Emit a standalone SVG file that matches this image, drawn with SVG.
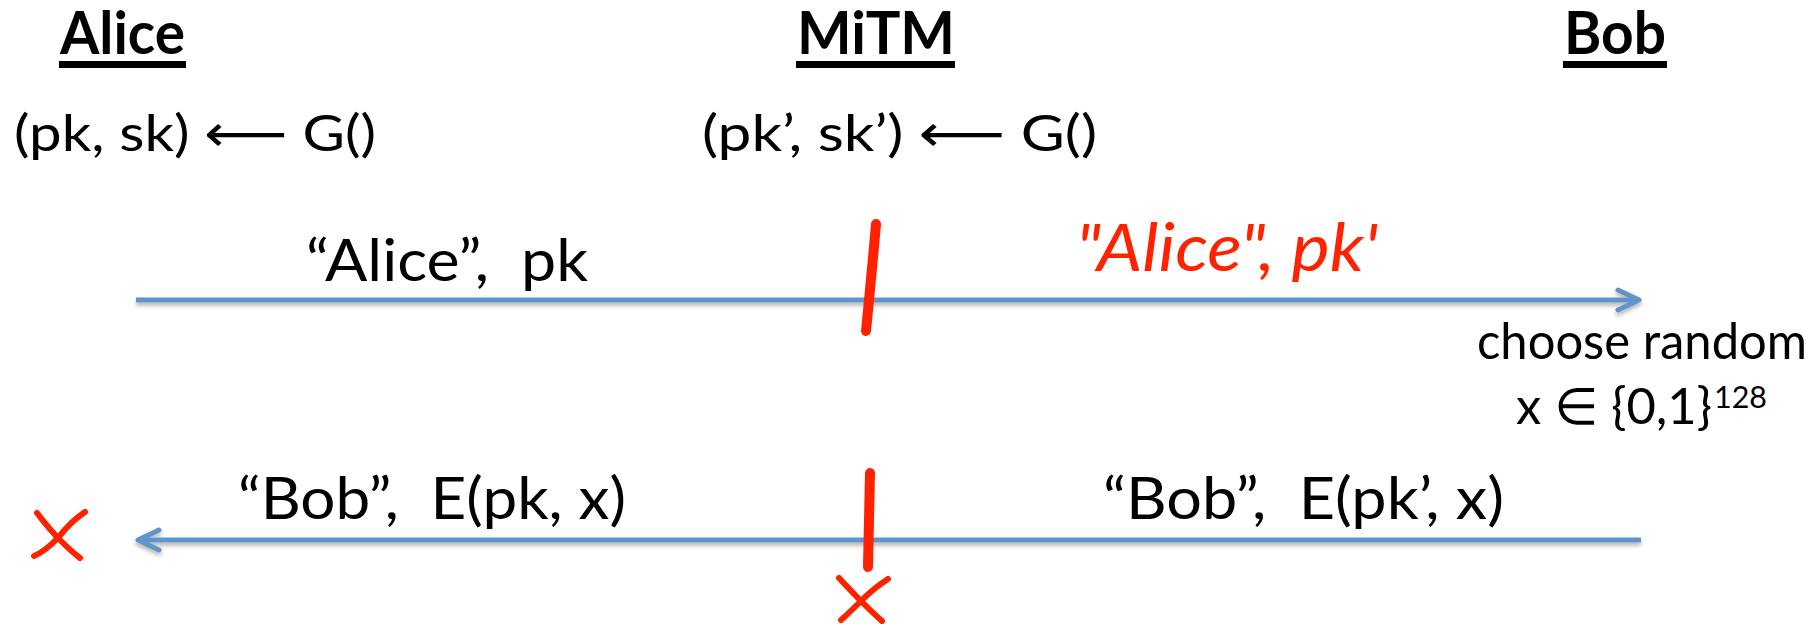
<svg xmlns="http://www.w3.org/2000/svg" width="1814" height="624" viewBox="0 0 1814 624">
  <style>
    .title { font-family: "Lato", "Open Sans", sans-serif; font-weight: bold; font-size: 59px; fill: #000; }
    .txt { font-family: "Lato", "DejaVu Sans", sans-serif; font-size: 51px; fill: #000; }
    .msg { font-family: "Lato", "DejaVu Sans", sans-serif; font-size: 59px; fill: #000; }
    .sup { font-family: "Lato", sans-serif; font-size: 30px; fill: #000; }
    .hand { font-family: "Lato", "DejaVu Sans", sans-serif; font-style: italic; font-size: 66px; fill: #ff2200; }
    .ink { fill: none; stroke: #ff2200; stroke-linecap: round; stroke-linejoin: round; }
    .conn { fill: none; stroke: #6294ca; stroke-width: 5; }
  </style>
  <defs>
    <filter id="shadow" filterUnits="userSpaceOnUse" x="0" y="0" width="1814" height="624">
      <feDropShadow dx="0" dy="3" stdDeviation="2" flood-color="#000" flood-opacity="0.3"/>
    </filter>
    <marker id="chev" markerUnits="userSpaceOnUse" markerWidth="40" markerHeight="40" viewBox="-30 -20 40 40" refX="0" refY="0" orient="auto">
      <path d="M -21 -10 L 0 0 L -21 10" fill="none" stroke="#6294ca" stroke-width="5" stroke-linecap="round" stroke-linejoin="round"/>
    </marker>
  </defs>

  <rect width="1814" height="624" fill="#fff"/>

  <g id="alice">
    <text class="title" x="60" y="54" textLength="125" lengthAdjust="spacingAndGlyphs">Alice</text>
    <rect x="59" y="61" width="127" height="7" fill="#000"/>
    <text class="txt" x="14" y="151" textLength="362" lengthAdjust="spacingAndGlyphs">(pk, sk) ⟵ G()</text>
  </g>

  <g id="mitm">
    <text class="title" x="797" y="54" textLength="158" lengthAdjust="spacingAndGlyphs">MiTM</text>
    <rect x="796" y="61" width="159" height="7" fill="#000"/>
    <text class="txt" x="702" y="151" textLength="395" lengthAdjust="spacingAndGlyphs">(pk’, sk’) ⟵ G()</text>
  </g>

  <g id="bob">
    <text class="title" x="1564" y="54" textLength="102" lengthAdjust="spacingAndGlyphs">Bob</text>
    <rect x="1563" y="61" width="104" height="7" fill="#000"/>
    <text class="txt" x="1477" y="359" textLength="330" lengthAdjust="spacingAndGlyphs">choose random</text>
    <text class="txt" x="1516" y="424" textLength="196" lengthAdjust="spacingAndGlyphs">x ∈ {0,1}</text>
    <text class="sup" x="1714" y="408" textLength="53" lengthAdjust="spacingAndGlyphs">128</text>
  </g>

  <g id="connectors">
    <line class="conn" x1="136" y1="300" x2="1639" y2="300" marker-end="url(#chev)" filter="url(#shadow)"/>
    <line class="conn" x1="1641" y1="540" x2="138" y2="540" marker-end="url(#chev)" filter="url(#shadow)"/>
  </g>

  <g id="labels">
    <text class="msg" x="306" y="281" textLength="282" lengthAdjust="spacingAndGlyphs" xml:space="preserve">“Alice”,  pk</text>
    <text class="msg" x="238" y="519" textLength="388" lengthAdjust="spacingAndGlyphs" xml:space="preserve">“Bob”,  E(pk, x)</text>
    <text class="msg" x="1103" y="519" textLength="401" lengthAdjust="spacingAndGlyphs" xml:space="preserve">“Bob”,  E(pk’, x)</text>
    <text class="hand" x="1076" y="271" textLength="302" lengthAdjust="spacingAndGlyphs" xml:space="preserve">"Alice", pk'</text>
  </g>

  <g id="marks">
    <path class="ink" stroke-width="10" d="M 876 224 Q 872 270 866 331"/>
    <path class="ink" stroke-width="10" d="M 870 473 Q 869 520 868 567"/>
    <path class="ink" stroke-width="6" d="M 37 513 Q 50 530 60 540 Q 72 552 80 558"/>
    <path class="ink" stroke-width="6" d="M 85 512 Q 70 522 58 538 Q 44 552 34 556"/>
    <path class="ink" stroke-width="6" d="M 839 578 Q 852 592 862 602 Q 874 614 882 621"/>
    <path class="ink" stroke-width="6" d="M 888 579 Q 874 588 862 600 Q 850 612 841 620"/>
  </g>
</svg>
